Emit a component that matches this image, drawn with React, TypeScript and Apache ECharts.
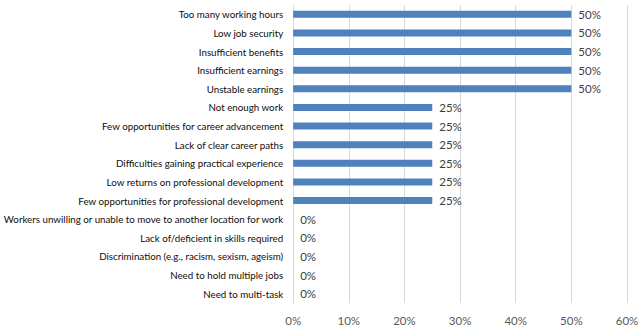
import React, { useEffect, useRef } from "react";
import * as echarts from "echarts";

const categories = [
  "Too many working hours",
  "Low job security",
  "Insufficient benefits",
  "Insufficient earnings",
  "Unstable earnings",
  "Not enough work",
  "Few opportunities for career advancement",
  "Lack of clear career paths",
  "Difficulties gaining practical experience",
  "Low returns on professional development",
  "Few opportunities for professional development",
  "Workers unwilling or unable to move to another location for work",
  "Lack of/deficient in skills required",
  "Discrimination (e.g., racism, sexism, ageism)",
  "Need to hold multiple jobs",
  "Need to multi-task",
];
const values = [50, 50, 50, 50, 50, 25, 25, 25, 25, 25, 25, 0, 0, 0, 0, 0];
const axisMin = 0;
const axisMax = 60;
const axisStep = 10;

export default function App() {
  const ref = useRef<HTMLDivElement>(null);
  useEffect(() => {
    if (!ref.current) return;
    const chart = echarts.init(ref.current, null, { renderer: "svg" });
    chart.setOption({
      animation: false,
      grid: { left: 293, right: 16, top: 5, bottom: 27, containLabel: false },
      xAxis: {
        type: "value",
        min: axisMin,
        max: axisMax,
        interval: axisStep,
        axisLabel: {
          formatter: "{value}%",
          color: "#595959",
          fontSize: 11.5,
          fontFamily: "Lato",
          margin: 11,
        },
        axisLine: { show: false },
        axisTick: { show: false },
        splitLine: { show: true, lineStyle: { color: "#d9d9d9", width: 1 } },
      },
      yAxis: {
        type: "category",
        data: categories,
        inverse: true,
        axisLabel: {
          color: "#0d0d0d",
          fontSize: 9.75,
          fontFamily: "Lato",
          margin: 10,
          interval: 0,
        },
        axisLine: { show: true, lineStyle: { color: "#d9d9d9" } },
        axisTick: { show: false },
      },
      series: [
        {
          type: "bar",
          data: values,
          barCategoryGap: "62%",
          itemStyle: { color: "#4f81bd" },
          label: {
            show: true,
            position: "right",
            distance: 7,
            formatter: "{c}%",
            color: "#404040",
            fontSize: 11.5,
            fontFamily: "Lato",
          },
        },
      ],
    });
    return () => chart.dispose();
  }, []);
  return (
    <div
      ref={ref}
      style={{ position: "fixed", left: 0, top: 0, width: 643, height: 330, background: "#fff" }}
    />
  );
}
